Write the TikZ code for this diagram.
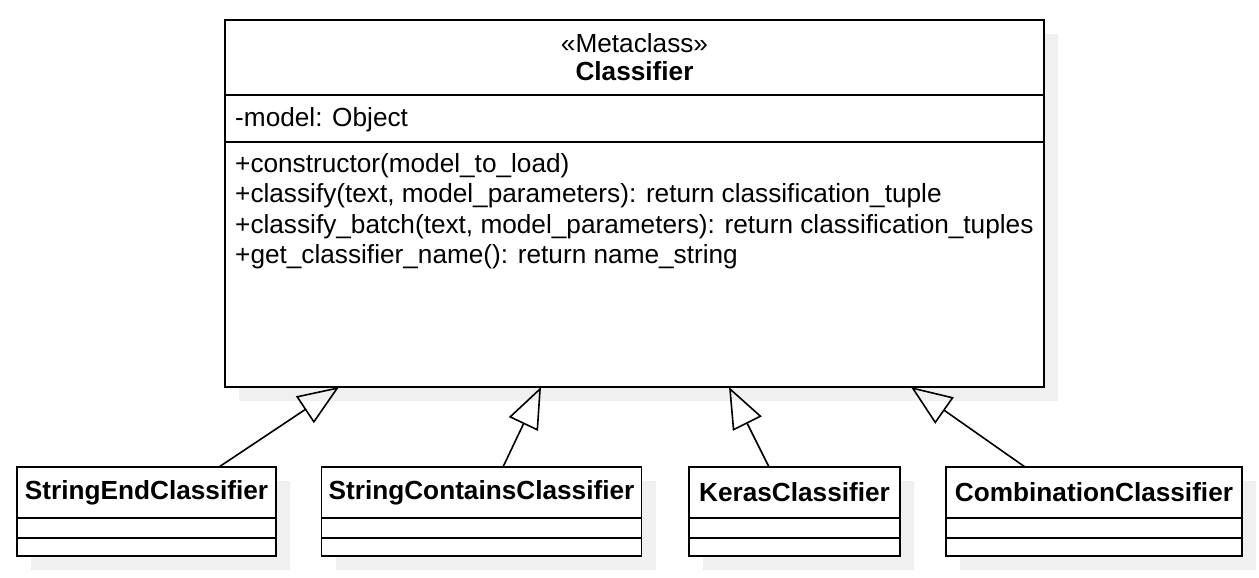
\documentclass[tikz,border=0pt]{standalone}
\usepackage{fontspec}
\setmainfont{Liberation Sans}
\usetikzlibrary{chains,scopes,positioning,arrows.meta,backgrounds}

\tikzset{
  part/.style={draw,line width=1.8pt,fill=white,inner sep=0pt,outer sep=0pt,on chain},
  shade/.style={fill=black!6},
  inherit/.style={line width=1.6pt,-{Triangle[open,length=41pt,width=32pt,line width=1.6pt]}}
}

\begin{document}
\begin{tikzpicture}[x=1pt,y=1pt,font=\fontsize{26.2}{28}\selectfont]
\useasboundingbox (0,0) rectangle (1259,-578);

%%% Classifier
\begin{scope}[start chain=going below,node distance=0pt]
\node[part,minimum width=819pt,minimum height=75pt,align=center] (clf) at (634.5,-57.5) {«Metaclass»\\\textbf{Classifier}};
\node[part,minimum width=819pt,minimum height=47pt] (clfattr) {};
\node[part,minimum width=819pt,minimum height=245pt] (clfops) {};
\end{scope}
\node[anchor=west,inner sep=0pt] (attrtxt) at ([shift={(10pt,-1.5pt)}]clfattr.west) {-model: Object};
\node[anchor=north west,inner sep=0pt,align=left,font=\fontsize{26.2}{30.5}\selectfont] (opstxt) at ([shift={(10pt,-11pt)}]clfops.north west)
  {+constructor(model\_to\_load)\\
   +classify(text, model\_parameters): return classification\_tuple\\
   +classify\_batch(text, model\_parameters): return classification\_tuples\\
   +get\_classifier\_name(): return name\_string};

%%% StringEndClassifier
\begin{scope}[start chain=going below,node distance=0pt]
\node[part,minimum width=259pt,minimum height=51pt,font=\fontsize{26.2}{28}\bfseries] (sec) at (146.5,-492.5) {StringEndClassifier};
\node[part,minimum width=259pt,minimum height=20pt] (secattr) {};
\node[part,minimum width=259pt,minimum height=18pt] (secops) {};
\end{scope}

%%% StringContainsClassifier
\begin{scope}[start chain=going below,node distance=0pt]
\node[part,minimum width=320pt,minimum height=51pt,font=\fontsize{26.2}{28}\bfseries] (scc) at (481.5,-492.5) {StringContainsClassifier};
\node[part,minimum width=320pt,minimum height=20pt] (sccattr) {};
\node[part,minimum width=320pt,minimum height=18pt] (sccops) {};
\end{scope}

%%% KerasClassifier
\begin{scope}[start chain=going below,node distance=0pt]
\node[part,minimum width=211pt,minimum height=51pt,font=\fontsize{26.2}{28}\bfseries] (kc) at (794.5,-492.5) {KerasClassifier};
\node[part,minimum width=211pt,minimum height=20pt] (kcattr) {};
\node[part,minimum width=211pt,minimum height=18pt] (kcops) {};
\end{scope}

%%% CombinationClassifier
\begin{scope}[start chain=going below,node distance=0pt]
\node[part,minimum width=296pt,minimum height=51pt,font=\fontsize{26.2}{28}\bfseries] (cc) at (1094,-492.5) {CombinationClassifier};
\node[part,minimum width=296pt,minimum height=20pt] (ccattr) {};
\node[part,minimum width=296pt,minimum height=18pt] (ccops) {};
\end{scope}

%% Ombre
\begin{scope}[on background layer]
\fill[shade] ([shift={(14pt,-14pt)}]clf.north west) rectangle ([shift={(14pt,-14pt)}]clfops.south east);
\fill[shade] ([shift={(14pt,-14pt)}]sec.north west) rectangle ([shift={(14pt,-14pt)}]secops.south east);
\fill[shade] ([shift={(14pt,-14pt)}]scc.north west) rectangle ([shift={(14pt,-14pt)}]sccops.south east);
\fill[shade] ([shift={(14pt,-14pt)}]kc.north west) rectangle ([shift={(14pt,-14pt)}]kcops.south east);
\fill[shade] ([shift={(14pt,-14pt)}]cc.north west) rectangle ([shift={(14pt,-14pt)}]ccops.south east);
\end{scope}

%% Frecce
\draw[inherit] ([xshift=72.5pt]sec.north) -- ([xshift=-295.5pt]clfops.south);
\draw[inherit] ([xshift=21.5pt]scc.north) -- ([xshift=-93.5pt]clfops.south);
\draw[inherit] ([xshift=-25.5pt]kc.north) -- ([xshift=94.5pt]clfops.south);
\draw[inherit] ([xshift=-69pt]cc.north) -- ([xshift=276.5pt]clfops.south);
\end{tikzpicture}
\end{document}
